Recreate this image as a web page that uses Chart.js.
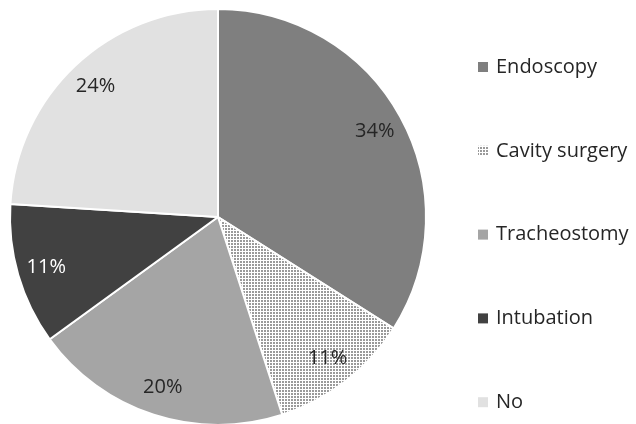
<!DOCTYPE html>
<html>
<head>
<meta charset="utf-8">
<script src="https://cdn.jsdelivr.net/npm/chart.js@4.4.0/dist/chart.umd.min.js"></script>
<style>
  html, body { margin: 0; padding: 0; background: #fff; }
  #wrap { width: 636px; height: 424px; overflow: hidden; position: relative; }
  #wrap canvas { display: block; }
</style>
</head>
<body>
<div id="wrap"><canvas id="myChart" width="636" height="434"></canvas></div>
<script>
  let labels = ["Endoscopy", "Cavity surgery", "Tracheostomy", "Intubation", "No"];
  let values = [34, 11, 20, 11, 24];
  let colors = ["#7f7f7f", "pattern", "#a5a5a5", "#414141", "#e1e1e1"];
  let textColors = ["#262626", "#262626", "#262626", "#ffffff", "#262626"];

  // dotted fill for "Cavity surgery"
  function dotPattern(ctx) {
    let c = document.createElement("canvas");
    c.width = 3; c.height = 3;
    let p = c.getContext("2d");
    p.fillStyle = "#ffffff";
    p.fillRect(0, 0, 3, 3);
    p.fillStyle = "#9a9a9a";
    p.fillRect(0, 0, 2, 2);
    return ctx.createPattern(c, "repeat");
  }

  let canvas = document.getElementById("myChart");
  let ctx = canvas.getContext("2d");
  let pat = dotPattern(ctx);
  let fills = colors.map(c => c === "pattern" ? pat : c);

  const font = "'Open Sans', 'Noto Sans', sans-serif";

  // percent labels + legend drawn by hand
  let extras = {
    id: "extras",
    afterDatasetsDraw(chart) {
      let c = chart.ctx;
      let meta = chart.getDatasetMeta(0);
      let total = values.reduce((a, b) => a + b, 0);
      c.save();
      c.font = "20px " + font;
      c.textAlign = "center";
      c.textBaseline = "middle";
      meta.data.forEach((arc, i) => {
        let p = arc.getProps(["x", "y", "startAngle", "endAngle", "outerRadius"], true);
        let mid = (p.startAngle + p.endAngle) / 2;
        let r = p.outerRadius * 0.86;
        c.fillStyle = textColors[i];
        c.fillText(Math.round(values[i] / total * 100) + "%", p.x + Math.cos(mid) * r, p.y + Math.sin(mid) * r);
      });

      c.font = "20px " + font;
      c.textAlign = "left";
      labels.forEach((lab, i) => {
        let y = 67 + i * 83.8;
        c.fillStyle = fills[i];
        c.fillRect(478, y - 5, 10, 10);
        c.fillStyle = "#262626";
        c.fillText(lab, 496, y);
      });
      c.restore();
    }
  };

  let chart = new Chart(ctx, {
    type: "pie",
    data: {
      labels: labels,
      datasets: [
        {
          data: values,
          backgroundColor: fills,
          borderColor: "#ffffff",
          borderWidth: 2,
        },
      ],
    },
    options: {
      responsive: false,
      animation: false,
      layout: { padding: { left: 9, top: 8, right: 209, bottom: 8 } },
      plugins: {
        legend: { display: false },
        tooltip: { enabled: false },
      },
    },
    plugins: [extras],
  });
</script>
</body>
</html>
